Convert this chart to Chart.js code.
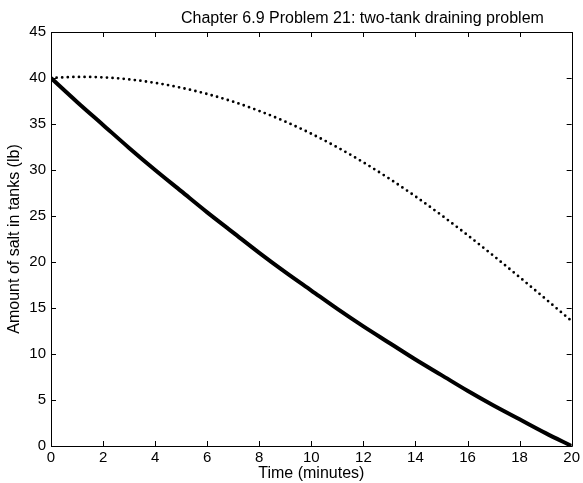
<!DOCTYPE html>
<html>
<head>
<meta charset="utf-8">
<script src="https://cdn.jsdelivr.net/npm/chart.js@4"></script>
<style>
  html, body { margin: 0; padding: 0; background: #fff; }
  #wrap { position: relative; width: 583px; height: 483px; }
</style>
</head>
<body>
<div id="wrap"><canvas id="myChart" width="583" height="483"></canvas></div>
<script>
"use strict";

// values
const times = [0, 1, 2, 3, 4, 5, 6, 7, 8, 9, 10, 11, 12, 13, 14, 15, 16, 17, 18, 19, 20];
const tankA = [40, 37.4, 34.9, 32.4, 30.0, 27.7, 25.4, 23.2, 21.0, 18.9, 16.9, 14.9, 13.0, 11.2, 9.4, 7.7, 6.0, 4.4, 2.9, 1.4, 0];
const tankB = [40, 40.12, 40.07, 39.85, 39.47, 38.94, 38.26, 37.42, 36.42, 35.26, 33.94, 32.46, 30.83, 29.05, 27.13, 25.08, 22.92, 20.67, 18.35, 15.98, 13.58];
const xTicks = [0, 2, 4, 6, 8, 10, 12, 14, 16, 18, 20];
const yTicks = [0, 5, 10, 15, 20, 25, 30, 35, 40, 45];

const titleText = "Chapter 6.9 Problem 21: two-tank draining problem";
const fontName = '"Liberation Sans", Arial, Helvetica, sans-serif';

// matlab style box with inward ticks on all four sides, plus the title
const boxTicks = {
  id: "boxTicks",
  afterDatasetsDraw(chart) {
    const ctx = chart.ctx;
    const a = chart.chartArea;
    const x = chart.scales.x;
    const y = chart.scales.y;
    const len = 5;
    ctx.save();
    ctx.strokeStyle = "#000";
    ctx.lineWidth = 1;
    ctx.beginPath();
    ctx.rect(Math.round(a.left) + 0.5, Math.round(a.top) + 0.5,
      Math.round(a.right) - Math.round(a.left), Math.round(a.bottom) - Math.round(a.top));
    x.ticks.forEach(t => {
      const px = Math.round(x.getPixelForValue(t.value)) + 0.5;
      ctx.moveTo(px, a.bottom);
      ctx.lineTo(px, a.bottom - len);
      ctx.moveTo(px, a.top);
      ctx.lineTo(px, a.top + len);
    });
    y.ticks.forEach(t => {
      const py = Math.round(y.getPixelForValue(t.value)) + 0.5;
      ctx.moveTo(a.left, py);
      ctx.lineTo(a.left + len, py);
      ctx.moveTo(a.right, py);
      ctx.lineTo(a.right - len, py);
    });
    ctx.stroke();

    ctx.fillStyle = "#000";
    ctx.font = "16px " + fontName;
    ctx.textAlign = "left";
    ctx.textBaseline = "alphabetic";
    ctx.fillText(titleText, 181, a.top - 9);
    ctx.restore();
  }
};

const ctx = document.getElementById("myChart").getContext("2d");

new Chart(ctx, {
  type: "line",
  data: {
    datasets: [
      {
        label: "Tank 1",
        data: times.map((t, i) => ({ x: t, y: tankA[i] })),
        borderColor: "#000",
        borderWidth: 4,
        pointRadius: 0,
        cubicInterpolationMode: "monotone",
        fill: false
      },
      {
        label: "Tank 2",
        data: times.map((t, i) => ({ x: t, y: tankB[i] })),
        borderColor: "#000",
        borderWidth: 2.8,
        borderDash: [0, 5.6],
        borderCapStyle: "round",
        pointRadius: 0,
        cubicInterpolationMode: "monotone",
        fill: false
      }
    ]
  },
  options: {
    responsive: false,
    animation: false,
    layout: { padding: { left: 0, right: 7, top: 32, bottom: 0 } },
    plugins: {
      legend: { display: false },
      tooltip: { enabled: false }
    },
    scales: {
      x: {
        type: "linear",
        min: 0,
        max: 20,
        afterBuildTicks: scale => { scale.ticks = xTicks.map(v => ({ value: v })); },
        afterFit: scale => { scale.height = 37; },
        grid: { display: false, drawTicks: false },
        border: { display: false },
        ticks: { color: "#000", padding: 3, maxRotation: 0, font: { family: fontName, size: 15 } },
        title: {
          display: true,
          text: "Time (minutes)",
          color: "#000",
          padding: { top: 0, bottom: 0 },
          font: { family: fontName, size: 16 }
        }
      },
      y: {
        min: 0,
        max: 45,
        afterBuildTicks: scale => { scale.ticks = yTicks.map(v => ({ value: v })); },
        afterFit: scale => { scale.width = 51; },
        grid: { display: false, drawTicks: false },
        border: { display: false },
        ticks: { color: "#000", padding: 5, font: { family: fontName, size: 15 } },
        title: {
          display: true,
          text: "Amount of salt in tanks (lb)",
          color: "#000",
          padding: { top: 5, bottom: 0 },
          font: { family: fontName, size: 16 }
        }
      }
    }
  },
  plugins: [boxTicks]
});
</script>
</body>
</html>
